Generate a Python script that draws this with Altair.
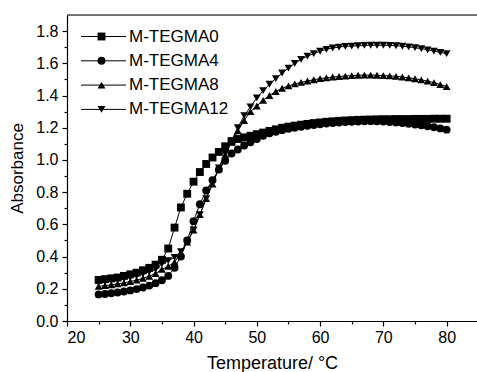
import altair as alt
import pandas as pd

names = ["M-TEGMA0", "M-TEGMA4", "M-TEGMA8", "M-TEGMA12"]
temps = list(range(25, 81))

a_tegma0 = [0.255, 0.26, 0.265, 0.27, 0.28, 0.29, 0.30, 0.315, 0.33, 0.35,
            0.38, 0.45, 0.58, 0.705, 0.79, 0.865, 0.925, 0.975, 1.015, 1.05,
            1.085, 1.115, 1.13, 1.14, 1.15, 1.16, 1.17, 1.18, 1.19, 1.20,
            1.207, 1.213, 1.219, 1.224, 1.229, 1.233, 1.237, 1.24, 1.243, 1.245,
            1.247, 1.249, 1.25, 1.251, 1.252, 1.253, 1.253, 1.254, 1.254, 1.254,
            1.255, 1.255, 1.255, 1.256, 1.256, 1.256]
a_tegma4 = [0.165, 0.168, 0.172, 0.177, 0.183, 0.19, 0.198, 0.208, 0.22, 0.235,
            0.253, 0.28, 0.33, 0.40, 0.50, 0.62, 0.725, 0.81, 0.875, 0.94,
            0.995, 1.04, 1.065, 1.09, 1.11, 1.13, 1.15, 1.165, 1.175, 1.185,
            1.193, 1.20, 1.206, 1.212, 1.217, 1.222, 1.226, 1.229, 1.232, 1.235,
            1.237, 1.239, 1.24, 1.241, 1.24, 1.238, 1.236, 1.233, 1.229, 1.225,
            1.22, 1.215, 1.209, 1.203, 1.196, 1.188]
a_tegma8 = [0.215, 0.22, 0.225, 0.23, 0.237, 0.245, 0.254, 0.265, 0.278, 0.295,
            0.32, 0.34, 0.365, 0.425, 0.49, 0.565, 0.66, 0.76, 0.85, 0.945,
            1.03, 1.11, 1.18, 1.245, 1.30, 1.335, 1.37, 1.40, 1.425, 1.445,
            1.46, 1.472, 1.482, 1.49, 1.498, 1.505, 1.51, 1.515, 1.518, 1.521,
            1.524, 1.526, 1.527, 1.527, 1.526, 1.524, 1.522, 1.519, 1.515, 1.51,
            1.504, 1.497, 1.489, 1.48, 1.468, 1.455]
a_tegma12 = [0.24, 0.245, 0.25, 0.256, 0.263, 0.27, 0.28, 0.292, 0.305, 0.32,
             0.355, 0.375, 0.395, 0.43, 0.49, 0.565, 0.66, 0.76, 0.855, 0.95,
             1.04, 1.12, 1.20, 1.275, 1.33, 1.385, 1.43, 1.47, 1.505, 1.54,
             1.57, 1.60, 1.625, 1.645, 1.66, 1.675, 1.687, 1.695, 1.701, 1.705,
             1.707, 1.709, 1.711, 1.712, 1.712, 1.712, 1.711, 1.709, 1.706, 1.702,
             1.697, 1.691, 1.684, 1.676, 1.668, 1.66]

x_major = [20, 30, 40, 50, 60, 70, 80]
x_minor = [25, 35, 45, 55, 65, 75]
y_major = [0.0, 0.2, 0.4, 0.6, 0.8, 1.0, 1.2, 1.4, 1.6, 1.8]
y_minor = [0.1, 0.3, 0.5, 0.7, 0.9, 1.1, 1.3, 1.5, 1.7]
shapes = ["square", "circle", "triangle-up", "triangle-down"]

# the line legend uses names with a trailing space so that Vega-Lite does not
# merge it with the marker legend
names_c = [n + " " for n in names]

rows = []
for name, name_c, vals in zip(names, names_c,
                              [a_tegma0, a_tegma4, a_tegma8, a_tegma12]):
    for t, v in zip(temps, vals):
        rows.append({"T": t, "A": v, "series": name, "series_c": name_c})
df = pd.DataFrame(rows)

FONT = "Liberation Sans"
W, H = 410, 306

xs = alt.Scale(domain=[20, 84.8], nice=False, zero=False)
ys = alt.Scale(domain=[0, 1.9], nice=False, zero=False)

axis_common = dict(grid=False, domainColor="black", domainWidth=1.2,
                   tickColor="black", tickWidth=1.2, labelFont=FONT,
                   labelColor="black", titleFont=FONT, titleColor="black",
                   titleFontWeight="normal")

x_axis_major = alt.Axis(values=x_major, tickSize=5, labelFontSize=16,
                        labelPadding=3, title="Temperature/ °C",
                        titleFontSize=18, titlePadding=9, orient="bottom",
                        format="d", **axis_common)
y_axis_major = alt.Axis(values=y_major, tickSize=5, labelFontSize=16,
                        labelPadding=4, format=".1f", title="Absorbance",
                        titleFontSize=17, titlePadding=9, orient="left",
                        **axis_common)
x_axis_minor = alt.Axis(values=x_minor, tickSize=3, labels=False, domain=False,
                        title=None, orient="bottom", grid=False,
                        tickColor="black", tickWidth=1.2)
y_axis_minor = alt.Axis(values=y_minor, tickSize=3, labels=False, domain=False,
                        title=None, orient="left", grid=False,
                        tickColor="black", tickWidth=1.2)

lines = alt.Chart(df).mark_line(strokeWidth=1).encode(
    x=alt.X("T:Q", scale=xs, axis=x_axis_major),
    y=alt.Y("A:Q", scale=ys, axis=y_axis_major),
    color=alt.Color("series_c:N",
                    scale=alt.Scale(domain=names_c, range=["black"] * 4),
                    legend=alt.Legend(title=None, orient="none", legendX=28,
                                      legendY=13, symbolSize=16,
                                      symbolType="M-11.25,0L11.25,0",
                                      symbolStrokeWidth=1,
                                      symbolStrokeColor="black",
                                      labelFontSize=17, labelFont=FONT,
                                      labelColor="rgba(0,0,0,0)",
                                      labelExpr="' '",
                                      labelOffset=19,
                                      rowPadding=6.3, padding=0)),
)

points = alt.Chart(df).mark_point(filled=True, size=62, opacity=1,
                                  color="black", strokeWidth=0).encode(
    x=alt.X("T:Q", scale=xs, axis=None),
    y=alt.Y("A:Q", scale=ys, axis=None),
    shape=alt.Shape("series:N",
                    scale=alt.Scale(domain=names, range=shapes),
                    legend=alt.Legend(title=None, orient="none", legendX=26,
                                      legendY=13, symbolSize=62,
                                      symbolFillColor="black",
                                      symbolStrokeColor="black",
                                      symbolStrokeWidth=0,
                                      labelFontSize=17, labelFont=FONT,
                                      labelColor="black", labelOffset=19,
                                      rowPadding=6.3, padding=0)),
)

minor = alt.Chart(df).mark_point(opacity=0).encode(
    x=alt.X("T:Q", scale=xs, axis=x_axis_minor),
    y=alt.Y("A:Q", scale=ys, axis=y_axis_minor),
)

top_border = alt.Chart(pd.DataFrame({"a": [0]})).mark_rule(
    color="black", strokeWidth=1.2).encode(
    x=alt.value(0), x2=alt.value(W), y=alt.value(0))

chart = alt.layer(minor, lines, points, top_border).resolve_axis(
    x="independent", y="independent"
).properties(
    width=W, height=H,
    autosize=alt.AutoSizeParams(type="none"),
    padding={"left": 67, "top": 15, "right": 0, "bottom": 51},
).configure_view(stroke=None).configure(background="white")

chart.save("out.html", embed_options={"renderer": "svg", "actions": False})
